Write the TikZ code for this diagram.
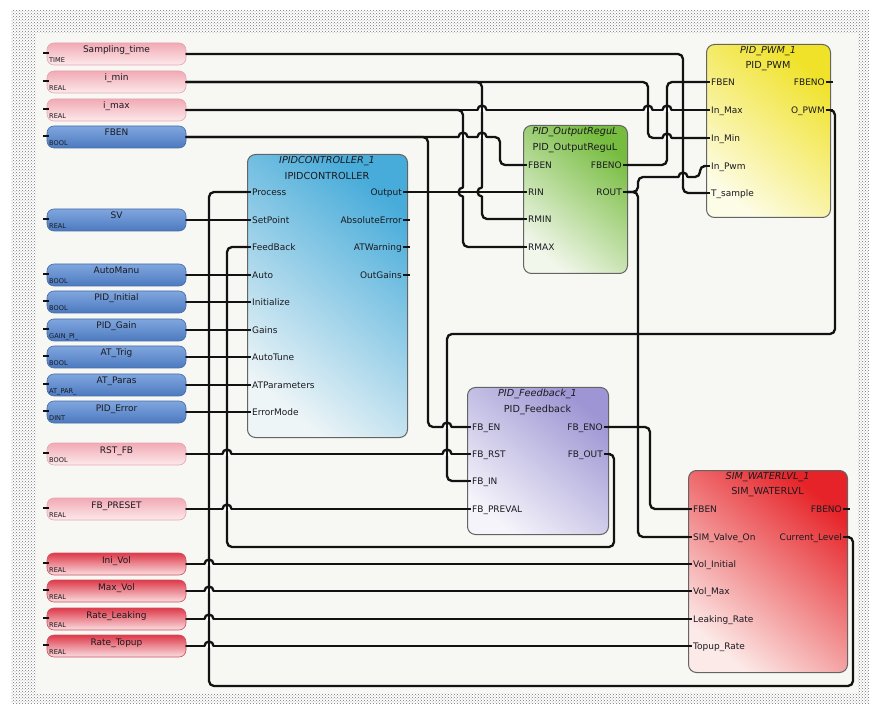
\documentclass[tikz,border=0pt]{standalone}
\usepackage{fontspec}
\setmainfont{DejaVu Sans}
\usetikzlibrary{patterns}

\definecolor{bgc}{RGB}{247,247,244}
\definecolor{wirec}{RGB}{18,18,18}
\definecolor{txtc}{RGB}{26,26,32}
\definecolor{edgec}{RGB}{100,100,100}
% variable boxes
\definecolor{pinktop}{RGB}{242,170,181}
\definecolor{pinkbot}{RGB}{252,233,235}
\definecolor{pinkedge}{RGB}{230,165,176}
\definecolor{bluetop}{RGB}{128,166,222}
\definecolor{bluebot}{RGB}{76,122,192}
\definecolor{blueedge}{RGB}{70,108,168}
\definecolor{redtop}{RGB}{222,58,74}
\definecolor{redbot}{RGB}{250,222,225}
\definecolor{rededge}{RGB}{205,80,92}
% function blocks
\definecolor{ipidA}{RGB}{72,172,218}
\definecolor{ipidB}{RGB}{238,245,247}
\definecolor{oregA}{RGB}{118,188,62}
\definecolor{oregB}{RGB}{242,247,236}
\definecolor{pwmA}{RGB}{240,226,40}
\definecolor{pwmB}{RGB}{253,252,230}
\definecolor{fbA}{RGB}{158,150,212}
\definecolor{fbB}{RGB}{245,244,250}
\definecolor{simA}{RGB}{230,35,40}
\definecolor{simB}{RGB}{252,234,232}

% a variable box with its name, data type and pin
\newcommand\varbox[5]{%
  \node[varcell,#5] (#1) at (116.5,#2) {};
  \node[varname] (#1-name) at (116.5,#2-1) {#3};
  \node[vartype] (#1-type) at (49,#2+8.5) {#4};
  \draw[pintick] (43,#2-1) -- (49,#2-1);
}
% block pins: name, x of block edge, y, label
\newcommand\inpin[4]{%
  \coordinate (#1) at (#2,#3);
  \draw[pintick] (#2-3,#3) -- (#2+4,#3);
  \node[pinlbl,anchor=base west] (#1-l) at (#2+5,#3+3.2) {#4};
}
\newcommand\outpin[4]{%
  \coordinate (#1) at (#2,#3);
  \draw[pintick] (#2-4,#3) -- (#2+3,#3);
  \node[pinlbl,anchor=base east] (#1-l) at (#2-5,#3+3.2) {#4};
}
% horizontal wire jumping over a vertical one
\newcommand\hopover[2]{%
  \fill[bgc] (#1-4.5,#2-1.9) rectangle (#1+4.5,#2+1.9);
  \draw[wire] (#1,#2-3) -- (#1,#2+3);
  \draw[wire] (#1-4.5,#2) arc[start angle=180,end angle=360,radius=4.5];
}
% vertical wire bending round a horizontal one
\newcommand\hopside[2]{%
  \fill[bgc] (#1-1.9,#2-4.5) rectangle (#1+1.9,#2+4.5);
  \draw[wire] (#1-3,#2) -- (#1+3,#2);
  \draw[wire] (#1,#2-4.5) arc[start angle=270,end angle=90,radius=4.5];
}

\begin{document}
\begin{tikzpicture}[x=1pt,y=-1pt,
  wire/.style={line width=2.3pt,draw=wirec,line cap=round,line join=round,rounded corners=5pt},
  pintick/.style={line width=2.2pt,draw=wirec},
  varcell/.style={rounded corners=7pt,minimum width=139pt,minimum height=22pt,inner sep=0pt,line width=0.6pt},
  pinkv/.style={top color=pinktop,bottom color=pinkbot,draw=pinkedge},
  bluev/.style={top color=bluetop,bottom color=bluebot,draw=blueedge},
  redv/.style={top color=redtop,bottom color=redbot,draw=rededge},
  varname/.style={anchor=base,inner sep=0pt,text=txtc,font=\fontsize{9}{10}\selectfont},
  vartype/.style={anchor=base west,inner sep=0pt,text=txtc,font=\fontsize{6.6}{7}\selectfont},
  blk/.style={anchor=north west,rounded corners=8pt,draw=edgec,line width=1pt,inner sep=0pt},
  ipidfill/.style={top color=ipidA,bottom color=ipidB,shading angle=-40},
  oregfill/.style={top color=oregA,bottom color=oregB,shading angle=-40},
  pwmfill/.style={top color=pwmA,bottom color=pwmB,shading angle=-40},
  fbfill/.style={top color=fbA,bottom color=fbB,shading angle=-40},
  simfill/.style={top color=simA,bottom color=simB,shading angle=-40},
  pinlbl/.style={inner sep=0pt,text=txtc,font=\fontsize{9}{10}\selectfont},
  ttlinst/.style={inner sep=0pt,text=txtc,font=\fontsize{9.7}{11}\selectfont\itshape},
  ttltype/.style={inner sep=0pt,text=txtc,font=\fontsize{9.7}{11}\selectfont}]

\useasboundingbox (0,0) rectangle (878,708);
\fill[white] (0,0) rectangle (878,708);
\fill[pattern=crosshatch dots,pattern color=black!55] (11,11) rectangle (869,703);
\fill[bgc] (36,33) rectangle (858,693);

% ---------- variables ----------
\varbox{samp}{54}{Sampling\_time}{TIME}{pinkv}
\varbox{imin}{82}{i\_min}{REAL}{pinkv}
\varbox{imax}{110}{i\_max}{REAL}{pinkv}
\varbox{fben}{137}{FBEN}{BOOL}{bluev}
\varbox{sv}{220}{SV}{REAL}{bluev}
\varbox{automanu}{275}{AutoManu}{BOOL}{bluev}
\varbox{pidinit}{302}{PID\_Initial}{BOOL}{bluev}
\varbox{pidgain}{330}{PID\_Gain}{GAIN\_PI\_}{bluev}
\varbox{attrig}{357}{AT\_Trig}{BOOL}{bluev}
\varbox{atparas}{385}{AT\_Paras}{AT\_PAR\_}{bluev}
\varbox{piderror}{412}{PID\_Error}{DINT}{bluev}
\varbox{rstfb}{454}{RST\_FB}{BOOL}{pinkv}
\varbox{fbpreset}{509}{FB\_PRESET}{REAL}{pinkv}
\varbox{inivol}{564}{Ini\_Vol}{REAL}{redv}
\varbox{maxvol}{591}{Max\_Vol}{REAL}{redv}
\varbox{rateleak}{619}{Rate\_Leaking}{REAL}{redv}
\varbox{ratetopup}{646}{Rate\_Topup}{REAL}{redv}

% ---------- IPIDCONTROLLER ----------
\node[blk,ipidfill,minimum width=160pt,minimum height=283pt] (ipid) at (247,154) {};
\node[ttlinst] (ipid-inst) at (327,161) {IPIDCONTROLLER\_1};
\node[ttltype] (ipid-type) at (327,176) {IPIDCONTROLLER};
\inpin{ipid-process}{247}{192}{Process}
\inpin{ipid-setpoint}{247}{220}{SetPoint}
\inpin{ipid-feedback}{247}{247}{FeedBack}
\inpin{ipid-auto}{247}{275}{Auto}
\inpin{ipid-init}{247}{302}{Initialize}
\inpin{ipid-gains}{247}{330}{Gains}
\inpin{ipid-autotune}{247}{357}{AutoTune}
\inpin{ipid-atparam}{247}{385}{ATParameters}
\inpin{ipid-errmode}{247}{412}{ErrorMode}
\outpin{ipid-output}{407}{192}{Output}
\outpin{ipid-abserr}{407}{220}{AbsoluteError}
\outpin{ipid-atwarn}{407}{247}{ATWarning}
\outpin{ipid-outgains}{407}{275}{OutGains}

% ---------- PID_OutputRegul ----------
\node[blk,oregfill,minimum width=104pt,minimum height=148pt] (oreg) at (523,125) {};
\node[ttlinst] (oreg-inst) at (575,132) {PID\_OutputReguL};
\node[ttltype] (oreg-type) at (575,148) {PID\_OutputReguL};
\inpin{oreg-fben}{523}{165}{FBEN}
\inpin{oreg-rin}{523}{192}{RIN}
\inpin{oreg-rmin}{523}{219}{RMIN}
\inpin{oreg-rmax}{523}{247}{RMAX}
\outpin{oreg-fbeno}{627}{165}{FBENO}
\outpin{oreg-rout}{627}{192}{ROUT}

% ---------- PID_PWM ----------
\node[blk,pwmfill,minimum width=124pt,minimum height=173pt] (pwm) at (706,44) {};
\node[ttlinst] (pwm-inst) at (768,51) {PID\_PWM\_1};
\node[ttltype] (pwm-type) at (768,66) {PID\_PWM};
\inpin{pwm-fben}{706}{82}{FBEN}
\inpin{pwm-inmax}{706}{110}{In\_Max}
\inpin{pwm-inmin}{706}{138}{In\_Min}
\inpin{pwm-inpwm}{706}{166}{In\_Pwm}
\inpin{pwm-tsample}{706}{193}{T\_sample}
\outpin{pwm-fbeno}{830}{82}{FBENO}
\outpin{pwm-opwm}{830}{110}{O\_PWM}

% ---------- PID_Feedback ----------
\node[blk,fbfill,minimum width=141pt,minimum height=147pt] (fb) at (467,387) {};
\node[ttlinst] (fb-inst) at (537.5,394) {PID\_Feedback\_1};
\node[ttltype] (fb-type) at (537.5,410) {PID\_Feedback};
\inpin{fb-en}{467}{427}{FB\_EN}
\inpin{fb-rst}{467}{454}{FB\_RST}
\inpin{fb-in}{467}{481}{FB\_IN}
\inpin{fb-preval}{467}{509}{FB\_PREVAL}
\outpin{fb-eno}{608}{427}{FB\_ENO}
\outpin{fb-out}{608}{454}{FB\_OUT}

% ---------- SIM_WATERLVL ----------
\node[blk,simfill,minimum width=159pt,minimum height=202pt] (sim) at (688,470) {};
\node[ttlinst] (sim-inst) at (767.5,477) {SIM\_WATERLVL\_1};
\node[ttltype] (sim-type) at (767.5,492) {SIM\_WATERLVL};
\inpin{sim-fben}{688}{509}{FBEN}
\inpin{sim-valve}{688}{537}{SIM\_Valve\_On}
\inpin{sim-volini}{688}{564}{Vol\_Initial}
\inpin{sim-volmax}{688}{591}{Vol\_Max}
\inpin{sim-leak}{688}{619}{Leaking\_Rate}
\inpin{sim-topup}{688}{646}{Topup\_Rate}
\outpin{sim-fbeno}{847}{509}{FBENO}
\outpin{sim-level}{847}{537}{Current\_Level}

% ---------- wires ----------
\draw[wire] (samp.east) -- (683,54) -- (683,193) -- (pwm-tsample);
\draw[wire] (imin.east) -- (648,82) -- (648,138) -- (pwm-inmin);
\draw[wire] (imin.east) -- (482,82) -- (482,219) -- (oreg-rmin);
\draw[wire] (imax.east) -- (pwm-inmax);
\draw[wire] (imax.east) -- (463,110) -- (463,247) -- (oreg-rmax);
\draw[wire] (fben.east) -- (500,137) -- (500,165) -- (oreg-fben);
\draw[wire] (fben.east) -- (428,137) -- (428,427) -- (fb-en);
\draw[wire] (oreg-fbeno) -- (667,165) -- (667,82) -- (pwm-fben);
\draw[wire] (oreg-rout) -- (638,192) -- (638,177) -- (700,177) -- (700,166) -- (pwm-inpwm);
\draw[wire] (oreg-rout) -- (638,192) -- (638,537) -- (sim-valve);
\draw[wire] (ipid-output) -- (oreg-rin);
\draw[wire] (pwm-opwm) -- (835,110) -- (835,334) -- (447,334) -- (447,481) -- (fb-in);
\draw[wire] (fb-eno) -- (650,427) -- (650,509) -- (sim-fben);
\draw[wire] (fb-out) -- (614,454) -- (614,547) -- (227,547) -- (227,247) -- (ipid-feedback);
\draw[wire] (sim-level) -- (853,537) -- (853,686) -- (209,686) -- (209,192) -- (ipid-process);
\draw[wire] (sv.east) -- (ipid-setpoint);
\draw[wire] (automanu.east) -- (ipid-auto);
\draw[wire] (pidinit.east) -- (ipid-init);
\draw[wire] (pidgain.east) -- (ipid-gains);
\draw[wire] (attrig.east) -- (ipid-autotune);
\draw[wire] (atparas.east) -- (ipid-atparam);
\draw[wire] (piderror.east) -- (ipid-errmode);
\draw[wire] (rstfb.east) -- (fb-rst);
\draw[wire] (fbpreset.east) -- (fb-preval);
\draw[wire] (inivol.east) -- (sim-volini);
\draw[wire] (maxvol.east) -- (sim-volmax);
\draw[wire] (rateleak.east) -- (sim-leak);
\draw[wire] (ratetopup.east) -- (sim-topup);

% ---------- crossings ----------
\hopover{482}{110} \hopover{648}{110} \hopover{667}{110}
\hopover{463}{137} \hopover{482}{137}
\hopover{667}{138}
\hopover{683}{177}
\hopover{447}{427}
\hopover{227}{454} \hopover{447}{454}
\hopover{227}{509}
\hopover{209}{564} \hopover{209}{591} \hopover{209}{619} \hopover{209}{646}
\hopside{463}{192} \hopside{482}{192}
\end{tikzpicture}
\end{document}
